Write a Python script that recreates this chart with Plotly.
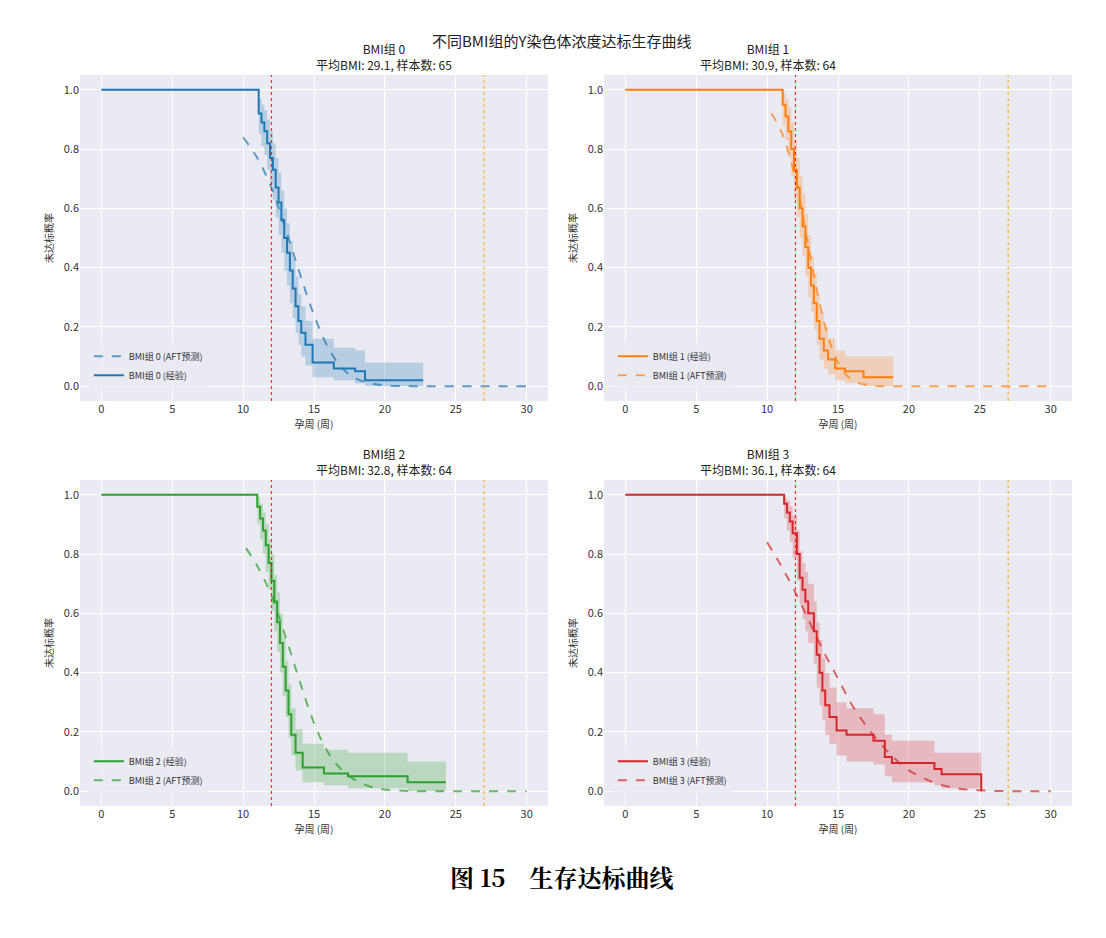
import plotly.graph_objects as go

# 经验生存曲线 (Kaplan-Meier) 及置信区间
t0 = [0, 11.1, 11.3, 11.5, 11.7, 11.9, 12.1, 12.3, 12.5, 12.7, 12.9, 13.1, 13.3, 13.5, 13.7, 13.9, 14.1, 14.4, 14.9, 16.4, 17.9, 18.6, 22.7]
s0 = [1.0, 0.92, 0.89, 0.86, 0.82, 0.77, 0.73, 0.67, 0.62, 0.56, 0.50, 0.45, 0.39, 0.33, 0.27, 0.22, 0.18, 0.14, 0.08, 0.06, 0.05, 0.02, 0.02]
lo0 = [1.0, 0.85, 0.81, 0.78, 0.73, 0.68, 0.63, 0.57, 0.51, 0.45, 0.39, 0.34, 0.28, 0.23, 0.18, 0.14, 0.10, 0.07, 0.03, 0.02, 0.01, 0.0, 0.0]
hi0 = [1.0, 0.97, 0.95, 0.93, 0.90, 0.86, 0.82, 0.77, 0.72, 0.66, 0.60, 0.55, 0.49, 0.43, 0.37, 0.31, 0.27, 0.22, 0.16, 0.13, 0.12, 0.08, 0.08]

t1 = [0, 11.1, 11.3, 11.5, 11.7, 11.9, 12.1, 12.3, 12.5, 12.7, 12.9, 13.1, 13.3, 13.5, 13.7, 14.0, 14.3, 14.8, 15.5, 16.8, 18.9]
s1 = [1.0, 0.95, 0.91, 0.86, 0.80, 0.73, 0.67, 0.60, 0.54, 0.47, 0.40, 0.34, 0.28, 0.22, 0.16, 0.12, 0.09, 0.06, 0.05, 0.03, 0.03]
lo1 = [1.0, 0.88, 0.83, 0.77, 0.71, 0.63, 0.57, 0.50, 0.44, 0.37, 0.30, 0.25, 0.19, 0.14, 0.09, 0.06, 0.04, 0.02, 0.01, 0.0, 0.0]
hi1 = [1.0, 0.99, 0.97, 0.94, 0.89, 0.83, 0.77, 0.71, 0.65, 0.58, 0.51, 0.44, 0.38, 0.31, 0.25, 0.20, 0.16, 0.12, 0.10, 0.10, 0.10]

t2 = [0, 11.0, 11.2, 11.4, 11.6, 11.8, 12.0, 12.2, 12.4, 12.6, 12.8, 13.0, 13.2, 13.4, 13.7, 14.2, 15.7, 17.4, 21.6, 24.3]
s2 = [1.0, 0.96, 0.92, 0.88, 0.83, 0.77, 0.71, 0.64, 0.57, 0.50, 0.42, 0.34, 0.26, 0.19, 0.13, 0.08, 0.06, 0.05, 0.03, 0.03]
lo2 = [1.0, 0.90, 0.85, 0.80, 0.74, 0.68, 0.61, 0.54, 0.47, 0.40, 0.32, 0.25, 0.18, 0.12, 0.07, 0.03, 0.02, 0.01, 0.0, 0.0]
hi2 = [1.0, 0.99, 0.97, 0.94, 0.90, 0.85, 0.80, 0.73, 0.67, 0.60, 0.52, 0.44, 0.36, 0.28, 0.21, 0.16, 0.14, 0.13, 0.10, 0.10]

t3 = [0, 11.2, 11.4, 11.6, 11.8, 12.1, 12.3, 12.5, 12.7, 12.9, 13.3, 13.5, 13.7, 13.9, 14.1, 14.4, 14.9, 15.6, 17.5, 18.3, 18.8, 21.8, 22.3, 25.1, 25.1]
s3 = [1.0, 0.97, 0.94, 0.91, 0.87, 0.80, 0.72, 0.68, 0.64, 0.60, 0.54, 0.46, 0.40, 0.34, 0.29, 0.25, 0.205, 0.19, 0.17, 0.115, 0.095, 0.075, 0.057, 0.057, 0.0]
lo3 = [1.0, 0.92, 0.88, 0.84, 0.79, 0.71, 0.63, 0.58, 0.54, 0.50, 0.43, 0.35, 0.29, 0.24, 0.19, 0.16, 0.12, 0.10, 0.09, 0.05, 0.03, 0.02, 0.01, 0.01, 0.01]
hi3 = [1.0, 0.99, 0.98, 0.96, 0.93, 0.88, 0.81, 0.77, 0.74, 0.70, 0.64, 0.57, 0.51, 0.45, 0.40, 0.35, 0.30, 0.28, 0.26, 0.19, 0.17, 0.13, 0.13, 0.13, 0.13]

# AFT 预测曲线
a_x0 = [10.0, 11, 12, 13, 14, 15, 16, 17, 18, 19, 20, 22, 25, 30]
a_y0 = [0.84, 0.77, 0.67, 0.53, 0.38, 0.24, 0.13, 0.06, 0.025, 0.01, 0.003, 0.0, 0.0, 0.0]
a_x1 = [10.3, 11, 12, 13, 14, 15, 16, 17, 18, 20, 25, 30]
a_y1 = [0.92, 0.86, 0.70, 0.45, 0.22, 0.08, 0.02, 0.005, 0.0, 0.0, 0.0, 0.0]
a_x2 = [10.2, 11, 12, 13, 14, 15, 16, 17, 18, 19, 20, 22, 25, 30]
a_y2 = [0.82, 0.76, 0.66, 0.52, 0.37, 0.23, 0.13, 0.07, 0.035, 0.015, 0.006, 0.0, 0.0, 0.0]
a_x3 = [10.0, 11, 12, 13, 14, 15, 16, 17, 18, 19, 20, 21, 22, 23, 24, 25, 26, 28, 30]
a_y3 = [0.84, 0.76, 0.67, 0.57, 0.47, 0.38, 0.29, 0.22, 0.16, 0.11, 0.07, 0.045, 0.025, 0.013, 0.006, 0.003, 0.001, 0.0, 0.0]

subtitles = ["BMI组 0<br>平均BMI: 29.1, 样本数: 65", "BMI组 1<br>平均BMI: 30.9, 样本数: 64",
             "BMI组 2<br>平均BMI: 32.8, 样本数: 64", "BMI组 3<br>平均BMI: 36.1, 样本数: 64"]

groups = [(t0, s0, lo0, hi0, a_x0, a_y0), (t1, s1, lo1, hi1, a_x1, a_y1),
          (t2, s2, lo2, hi2, a_x2, a_y2), (t3, s3, lo3, hi3, a_x3, a_y3)]
colors = ["#1f77b4", "#ff7f0e", "#2ca02c", "#d62728"]
fills = ["rgba(31,119,180,0.25)", "rgba(255,127,14,0.25)", "rgba(44,160,44,0.25)", "rgba(214,39,40,0.25)"]

W, H = 1106, 938
xdom = [[72 / W, 540 / W], [596 / W, 1064 / W]]
ydom = [[1 - 393 / H, 1 - 67 / H], [1 - 798 / H, 1 - 472 / H]]
font = "Noto Sans CJK SC"

fig = go.Figure()
layout = {}
for i, (t, s, lo, hi, ax, ay) in enumerate(groups):
    n = i + 1
    xa, ya = ("x" if n == 1 else f"x{n}"), ("y" if n == 1 else f"y{n}")
    leg = "legend" if n == 1 else f"legend{n}"
    fig.add_trace(go.Scatter(x=t, y=lo, mode="lines", line=dict(width=0, shape="hv"),
                             showlegend=False, xaxis=xa, yaxis=ya, hoverinfo="skip"))
    fig.add_trace(go.Scatter(x=t, y=hi, mode="lines", line=dict(width=0, shape="hv"), fill="tonexty",
                             fillcolor=fills[i], showlegend=False, xaxis=xa, yaxis=ya, hoverinfo="skip"))
    fig.add_trace(go.Scatter(x=t, y=s, mode="lines", line=dict(color=colors[i], width=2, shape="hv"),
                             name=f"BMI组 {i} (经验)", xaxis=xa, yaxis=ya, legend=leg))
    fig.add_trace(go.Scatter(x=ax, y=ay, mode="lines", line=dict(color=colors[i], width=2, dash="dash", shape="spline"),
                             opacity=0.7, name=f"BMI组 {i} (AFT预测)", xaxis=xa, yaxis=ya, legend=leg))
    for xv, c in [(12, "red"), (27, "orange")]:
        fig.add_shape(type="line", x0=xv, x1=xv, y0=0, y1=1, xref=xa, yref=f"{ya} domain",
                      line=dict(color=c, width=1.2, dash="dot"), opacity=0.8)
    xd, yd = xdom[i % 2], ydom[i // 2]
    layout["xaxis" if n == 1 else f"xaxis{n}"] = dict(
        domain=xd, anchor=ya, range=[-1.5, 31.5], tickvals=[0, 5, 10, 15, 20, 25, 30], gridcolor="white",
        zeroline=False, title=dict(text="孕周 (周)", font=dict(size=10), standoff=4), tickfont=dict(size=11, color="#333"))
    layout["yaxis" if n == 1 else f"yaxis{n}"] = dict(
        domain=yd, anchor=xa, range=[-0.05, 1.05], tickvals=[0, 0.2, 0.4, 0.6, 0.8, 1.0], tickformat=".1f",
        gridcolor="white", zeroline=False, title=dict(text="未达标概率", font=dict(size=10), standoff=8),
        tickfont=dict(size=11, color="#333"))
    layout[leg] = dict(x=xd[0] + 0.008, y=yd[0] + 0.012, xanchor="left", yanchor="bottom", xref="paper", yref="paper",
                       bgcolor="rgba(234,234,242,0.8)", font=dict(size=9), tracegroupgap=0)
    fig.add_annotation(text=subtitles[i], x=(xd[0] + xd[1]) / 2, y=yd[1], xref="paper", yref="paper",
                       yanchor="bottom", showarrow=False, font=dict(size=12, color="#222"))

fig.update_layout(**layout)
fig.add_annotation(text="不同BMI组的Y染色体浓度达标生存曲线", x=0.5, y=1 - 20 / H, xref="paper", yref="paper",
                   showarrow=False, font=dict(size=15, color="#222"))
fig.add_annotation(text="<b>图 15    生存达标曲线</b>", x=0.5, y=1 - 888 / H, xref="paper", yref="paper",
                   showarrow=False, font=dict(size=24, color="black", family="Noto Serif CJK SC, Noto Sans CJK SC"))
fig.update_layout(width=W, height=H, margin=dict(l=0, r=0, t=0, b=0), paper_bgcolor="white",
                  plot_bgcolor="#EAEAF2", font=dict(family=font, color="#333"))
fig.write_html("out.html")
